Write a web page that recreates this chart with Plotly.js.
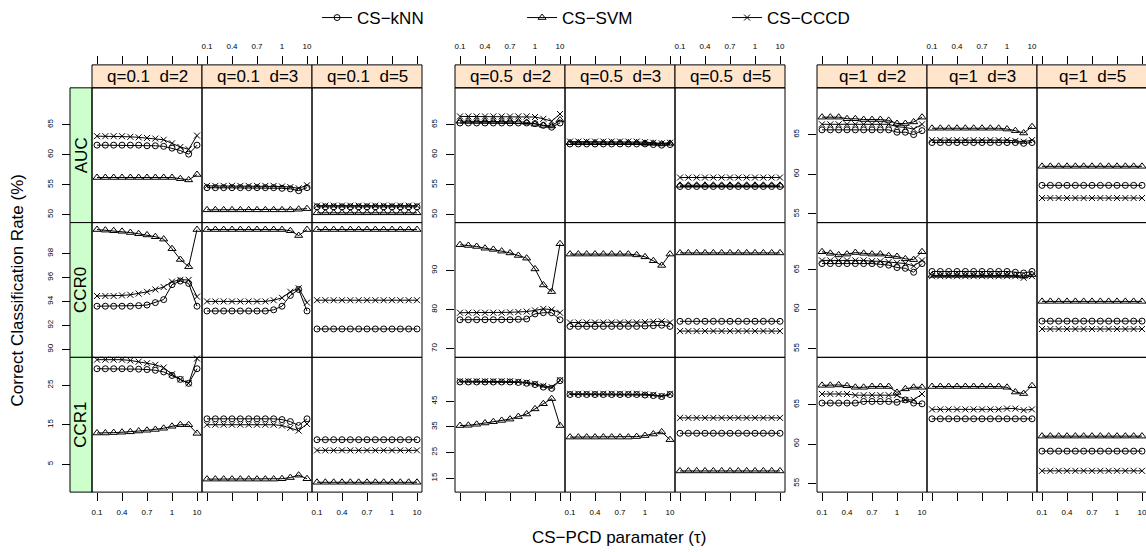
<!DOCTYPE html>
<html><head><meta charset="utf-8">
<script src="https://cdn.plot.ly/plotly-3.0.1.min.js"></script>
<style>body{margin:0;background:#fff}#chart{width:1146px;height:552px}</style>
</head><body><div id="chart"></div>
<script>
// ---------- categories / ticks ----------
const tauIndex=[1,2,3,4,5,6,7,8,9,10,11,12,13];
const tauTickIndex=[1,4,7,10,13];
const tauTickText=["0.1","0.4","0.7","1","10"];
const qLevels=["0.1","0.5","1"];
const dLevels=["2","3","5"];
const measures=["AUC","CCR0","CCR1"];
const methodNames=["CS−kNN","CS−SVM","CS−CCCD"];

// ---------- q = 0.1 ----------
const AUC_q01_d2_kNN =[61.6,61.6,61.6,61.6,61.6,61.6,61.5,61.5,61.4,61.1,60.7,60.1,61.6];
const AUC_q01_d2_SVM =[56.2,56.2,56.2,56.2,56.2,56.2,56.2,56.2,56.2,56.2,56.0,55.8,56.7];
const AUC_q01_d2_CCCD=[63.1,63.1,63.1,63.1,63.0,62.9,62.8,62.7,62.5,61.9,61.3,60.9,63.2];
const AUC_q01_d3_kNN =[54.5,54.5,54.5,54.5,54.5,54.5,54.5,54.5,54.5,54.4,54.3,54.0,54.5];
const AUC_q01_d3_SVM =[50.8,50.8,50.8,50.8,50.8,50.8,50.8,50.8,50.8,50.8,50.8,50.9,51.0];
const AUC_q01_d3_CCCD=[54.8,54.8,54.8,54.8,54.8,54.8,54.8,54.8,54.8,54.7,54.6,54.4,54.9];
const AUC_q01_d5_kNN =[51.3,51.3,51.3,51.3,51.3,51.3,51.3,51.3,51.3,51.3,51.3,51.3,51.3];
const AUC_q01_d5_SVM =[50.3,50.3,50.3,50.3,50.3,50.3,50.3,50.3,50.3,50.3,50.3,50.3,50.3];
const AUC_q01_d5_CCCD=[51.5,51.5,51.5,51.5,51.5,51.5,51.5,51.5,51.5,51.5,51.5,51.5,51.5];

const CCR0_q01_d2_kNN =[93.6,93.6,93.6,93.6,93.6,93.65,93.7,93.9,94.15,95.4,95.7,95.5,93.6];
const CCR0_q01_d2_SVM =[100,99.95,99.9,99.85,99.75,99.65,99.55,99.4,99.2,98.4,97.5,96.9,100];
const CCR0_q01_d2_CCCD=[94.45,94.45,94.45,94.5,94.55,94.65,94.8,95.0,95.2,95.65,95.8,95.8,94.4];
const CCR0_q01_d3_kNN =[93.2,93.2,93.2,93.2,93.2,93.2,93.2,93.2,93.3,93.6,94.5,95.0,93.2];
const CCR0_q01_d3_SVM =[100,100,100,100,100,100,100,100,100,100,99.9,99.5,100];
const CCR0_q01_d3_CCCD=[94.0,94.0,94.0,94.0,94.0,94.0,94.0,94.0,94.1,94.3,94.8,95.1,93.9];
const CCR0_q01_d5_kNN =[91.7,91.7,91.7,91.7,91.7,91.7,91.7,91.7,91.7,91.7,91.7,91.7,91.7];
const CCR0_q01_d5_SVM =[100,100,100,100,100,100,100,100,100,100,100,100,100];
const CCR0_q01_d5_CCCD=[94.1,94.1,94.1,94.1,94.1,94.1,94.1,94.1,94.1,94.1,94.1,94.1,94.1];

const CCR1_q01_d2_kNN =[29.2,29.2,29.2,29.2,29.2,29.1,29.0,28.8,28.4,27.5,26.5,25.5,29.2];
const CCR1_q01_d2_SVM =[12.9,12.9,13.0,13.1,13.2,13.4,13.6,13.8,14.1,14.6,15.0,15.0,12.8];
const CCR1_q01_d2_CCCD=[31.5,31.5,31.5,31.5,31.3,31.0,30.6,30.2,29.5,27.8,26.5,25.5,31.8];
const CCR1_q01_d3_kNN =[16.5,16.5,16.5,16.5,16.5,16.5,16.5,16.5,16.5,16.3,15.8,14.8,16.5];
const CCR1_q01_d3_SVM =[1.2,1.2,1.2,1.2,1.2,1.2,1.2,1.2,1.2,1.3,1.6,2.2,1.3];
const CCR1_q01_d3_CCCD=[15.0,15.0,15.0,15.0,15.0,15.0,15.0,15.0,15.0,14.8,14.2,13.5,15.2];
const CCR1_q01_d5_kNN =[11.2,11.2,11.2,11.2,11.2,11.2,11.2,11.2,11.2,11.2,11.2,11.2,11.2];
const CCR1_q01_d5_SVM =[0.4,0.4,0.4,0.4,0.4,0.4,0.4,0.4,0.4,0.4,0.4,0.4,0.4];
const CCR1_q01_d5_CCCD=[8.5,8.5,8.5,8.5,8.5,8.5,8.5,8.5,8.5,8.5,8.5,8.5,8.5];

// ---------- q = 0.5 ----------
const AUC_q05_d2_kNN =[65.3,65.3,65.3,65.3,65.3,65.3,65.3,65.3,65.3,65.2,64.9,64.6,65.3];
const AUC_q05_d2_SVM =[65.6,65.6,65.6,65.6,65.6,65.6,65.6,65.5,65.4,65.1,64.9,64.8,65.8];
const AUC_q05_d2_CCCD=[66.4,66.4,66.4,66.4,66.4,66.4,66.4,66.4,66.4,66.3,66.0,65.6,66.8];
const AUC_q05_d3_kNN =[61.8,61.8,61.8,61.8,61.8,61.8,61.8,61.8,61.8,61.8,61.7,61.6,61.7];
const AUC_q05_d3_SVM =[62.0,62.0,62.0,62.0,62.0,62.0,62.0,62.0,62.0,61.9,61.9,61.8,61.9];
const AUC_q05_d3_CCCD=[62.2,62.2,62.2,62.2,62.2,62.2,62.2,62.2,62.2,62.1,62.0,61.9,62.0];
const AUC_q05_d5_kNN =[54.7,54.7,54.7,54.7,54.7,54.7,54.7,54.7,54.7,54.7,54.7,54.7,54.7];
const AUC_q05_d5_SVM =[54.9,54.9,54.9,54.9,54.9,54.9,54.9,54.9,54.9,54.9,54.9,54.9,54.9];
const AUC_q05_d5_CCCD=[56.2,56.2,56.2,56.2,56.2,56.2,56.2,56.2,56.2,56.2,56.2,56.2,56.2];

const CCR0_q05_d2_kNN =[77.4,77.4,77.4,77.4,77.4,77.4,77.4,77.5,77.6,78.9,79.2,79.2,77.4];
const CCR0_q05_d2_SVM =[96.6,96.4,96.15,95.7,95.4,94.95,94.5,93.85,93.15,90.4,86.3,84.6,96.85];
const CCR0_q05_d2_CCCD=[79.2,79.2,79.2,79.2,79.2,79.2,79.3,79.4,79.5,79.8,80.2,80.0,79.2];
const CCR0_q05_d3_kNN =[75.7,75.7,75.7,75.7,75.7,75.7,75.7,75.7,75.7,75.8,75.9,76.0,75.7];
const CCR0_q05_d3_SVM =[94.2,94.2,94.2,94.2,94.2,94.2,94.2,94.2,94.0,93.5,92.5,91.3,94.2];
const CCR0_q05_d3_CCCD=[76.7,76.7,76.7,76.7,76.7,76.7,76.7,76.7,76.7,76.8,76.9,77.0,76.7];
const CCR0_q05_d5_kNN =[77.0,77.0,77.0,77.0,77.0,77.0,77.0,77.0,77.0,77.0,77.0,77.0,77.0];
const CCR0_q05_d5_SVM =[94.5,94.5,94.5,94.5,94.5,94.5,94.5,94.5,94.5,94.5,94.5,94.5,94.5];
const CCR0_q05_d5_CCCD=[74.5,74.5,74.5,74.5,74.5,74.5,74.5,74.5,74.5,74.5,74.5,74.5,74.5];

const CCR1_q05_d2_kNN =[52.5,52.5,52.5,52.5,52.5,52.5,52.5,52.3,52.0,51.5,50.5,50.0,53.0];
const CCR1_q05_d2_SVM =[35.5,35.6,36.0,36.5,37.0,37.5,38.0,39.0,40.0,42.0,44.0,46.0,35.5];
const CCR1_q05_d2_CCCD=[52.8,52.8,52.8,52.8,52.8,52.8,52.8,52.6,52.3,51.8,51.0,50.5,53.2];
const CCR1_q05_d3_kNN =[47.6,47.6,47.6,47.6,47.6,47.6,47.6,47.6,47.6,47.4,47.2,46.8,47.6];
const CCR1_q05_d3_SVM =[31.0,31.0,31.0,31.0,31.0,31.0,31.0,31.0,31.2,31.6,32.2,33.0,30.0];
const CCR1_q05_d3_CCCD=[47.9,47.9,47.9,47.9,47.9,47.9,47.9,47.9,47.9,47.7,47.5,47.0,47.9];
const CCR1_q05_d5_kNN =[32.5,32.5,32.5,32.5,32.5,32.5,32.5,32.5,32.5,32.5,32.5,32.5,32.5];
const CCR1_q05_d5_SVM =[17.8,17.8,17.8,17.8,17.8,17.8,17.8,17.8,17.8,17.8,17.8,17.8,17.8];
const CCR1_q05_d5_CCCD=[38.5,38.5,38.5,38.5,38.5,38.5,38.5,38.5,38.5,38.5,38.5,38.5,38.5];

// ---------- q = 1 ----------
const AUC_q1_d2_kNN =[65.6,65.6,65.6,65.6,65.6,65.6,65.6,65.6,65.6,65.3,65.3,65.0,65.5];
const AUC_q1_d2_SVM =[67.2,67.2,67.2,67.0,67.0,66.9,66.9,66.9,66.8,66.4,66.4,66.6,67.2];
const AUC_q1_d2_CCCD=[66.3,66.3,66.3,66.3,66.3,66.3,66.3,66.3,66.3,66.0,65.9,65.7,66.3];
const AUC_q1_d3_kNN =[64.0,64.0,64.0,64.0,64.0,64.0,64.0,64.0,64.0,64.0,64.0,63.9,64.0];
const AUC_q1_d3_SVM =[65.8,65.8,65.8,65.8,65.8,65.8,65.8,65.8,65.8,65.7,65.5,65.2,66.0];
const AUC_q1_d3_CCCD=[64.3,64.3,64.3,64.3,64.3,64.3,64.3,64.3,64.3,64.3,64.2,64.1,64.3];
const AUC_q1_d5_kNN =[58.6,58.6,58.6,58.6,58.6,58.6,58.6,58.6,58.6,58.6,58.6,58.6,58.6];
const AUC_q1_d5_SVM =[61.0,61.0,61.0,61.0,61.0,61.0,61.0,61.0,61.0,61.0,61.0,61.0,61.0];
const AUC_q1_d5_CCCD=[57.0,57.0,57.0,57.0,57.0,57.0,57.0,57.0,57.0,57.0,57.0,57.0,57.0];

const CCR0_q1_d2_kNN =[65.8,65.8,65.8,65.8,65.8,65.8,65.8,65.7,65.6,65.3,65.2,64.7,65.8];
const CCR0_q1_d2_SVM =[67.3,67.1,66.9,67.0,67.2,67.1,67.0,67.0,66.8,66.7,66.4,66.3,67.3];
const CCR0_q1_d2_CCCD=[66.2,66.2,66.2,66.2,66.2,66.2,66.1,66.1,66.0,65.9,65.8,65.5,66.2];
const CCR0_q1_d3_kNN =[64.8,64.8,64.8,64.8,64.8,64.8,64.8,64.8,64.8,64.8,64.7,64.6,64.8];
const CCR0_q1_d3_SVM =[64.3,64.3,64.3,64.3,64.3,64.3,64.3,64.3,64.3,64.3,64.3,64.2,64.4];
const CCR0_q1_d3_CCCD=[64.2,64.2,64.2,64.2,64.2,64.2,64.2,64.2,64.2,64.2,64.2,64.0,64.2];
const CCR0_q1_d5_kNN =[58.5,58.5,58.5,58.5,58.5,58.5,58.5,58.5,58.5,58.5,58.5,58.5,58.5];
const CCR0_q1_d5_SVM =[61.0,61.0,61.0,61.0,61.0,61.0,61.0,61.0,61.0,61.0,61.0,61.0,61.0];
const CCR0_q1_d5_CCCD=[57.5,57.5,57.5,57.5,57.5,57.5,57.5,57.5,57.5,57.5,57.5,57.5,57.5];

const CCR1_q1_d2_kNN =[65.2,65.2,65.2,65.2,65.2,65.4,65.4,65.4,65.4,65.3,65.6,65.2,65.1];
const CCR1_q1_d2_SVM =[67.45,67.45,67.5,67.4,67.2,67.2,67.3,67.3,67.3,66.55,67.0,67.2,67.2];
const CCR1_q1_d2_CCCD=[66.35,66.35,66.35,66.35,66.2,66.2,66.2,66.2,66.2,66.2,65.6,65.6,66.35];
const CCR1_q1_d3_kNN =[63.2,63.2,63.2,63.2,63.2,63.2,63.2,63.2,63.2,63.2,63.2,63.2,63.2];
const CCR1_q1_d3_SVM =[67.3,67.3,67.3,67.3,67.3,67.3,67.3,67.3,67.3,67.2,66.6,66.4,67.4];
const CCR1_q1_d3_CCCD=[64.4,64.4,64.4,64.4,64.4,64.4,64.4,64.4,64.4,64.5,64.5,64.3,64.4];
const CCR1_q1_d5_kNN =[59.1,59.1,59.1,59.1,59.1,59.1,59.1,59.1,59.1,59.1,59.1,59.1,59.1];
const CCR1_q1_d5_SVM =[61.0,61.0,61.0,61.0,61.0,61.0,61.0,61.0,61.0,61.0,61.0,61.0,61.0];
const CCR1_q1_d5_CCCD=[56.6,56.6,56.6,56.6,56.6,56.6,56.6,56.6,56.6,56.6,56.6,56.6,56.6];

// table built from the arrays: [measure][q][d] -> [kNN, SVM, CCCD]
const table={
 AUC:{"0.1":{"2":[AUC_q01_d2_kNN,AUC_q01_d2_SVM,AUC_q01_d2_CCCD],"3":[AUC_q01_d3_kNN,AUC_q01_d3_SVM,AUC_q01_d3_CCCD],"5":[AUC_q01_d5_kNN,AUC_q01_d5_SVM,AUC_q01_d5_CCCD]},
      "0.5":{"2":[AUC_q05_d2_kNN,AUC_q05_d2_SVM,AUC_q05_d2_CCCD],"3":[AUC_q05_d3_kNN,AUC_q05_d3_SVM,AUC_q05_d3_CCCD],"5":[AUC_q05_d5_kNN,AUC_q05_d5_SVM,AUC_q05_d5_CCCD]},
      "1":{"2":[AUC_q1_d2_kNN,AUC_q1_d2_SVM,AUC_q1_d2_CCCD],"3":[AUC_q1_d3_kNN,AUC_q1_d3_SVM,AUC_q1_d3_CCCD],"5":[AUC_q1_d5_kNN,AUC_q1_d5_SVM,AUC_q1_d5_CCCD]}},
 CCR0:{"0.1":{"2":[CCR0_q01_d2_kNN,CCR0_q01_d2_SVM,CCR0_q01_d2_CCCD],"3":[CCR0_q01_d3_kNN,CCR0_q01_d3_SVM,CCR0_q01_d3_CCCD],"5":[CCR0_q01_d5_kNN,CCR0_q01_d5_SVM,CCR0_q01_d5_CCCD]},
      "0.5":{"2":[CCR0_q05_d2_kNN,CCR0_q05_d2_SVM,CCR0_q05_d2_CCCD],"3":[CCR0_q05_d3_kNN,CCR0_q05_d3_SVM,CCR0_q05_d3_CCCD],"5":[CCR0_q05_d5_kNN,CCR0_q05_d5_SVM,CCR0_q05_d5_CCCD]},
      "1":{"2":[CCR0_q1_d2_kNN,CCR0_q1_d2_SVM,CCR0_q1_d2_CCCD],"3":[CCR0_q1_d3_kNN,CCR0_q1_d3_SVM,CCR0_q1_d3_CCCD],"5":[CCR0_q1_d5_kNN,CCR0_q1_d5_SVM,CCR0_q1_d5_CCCD]}},
 CCR1:{"0.1":{"2":[CCR1_q01_d2_kNN,CCR1_q01_d2_SVM,CCR1_q01_d2_CCCD],"3":[CCR1_q01_d3_kNN,CCR1_q01_d3_SVM,CCR1_q01_d3_CCCD],"5":[CCR1_q01_d5_kNN,CCR1_q01_d5_SVM,CCR1_q01_d5_CCCD]},
      "0.5":{"2":[CCR1_q05_d2_kNN,CCR1_q05_d2_SVM,CCR1_q05_d2_CCCD],"3":[CCR1_q05_d3_kNN,CCR1_q05_d3_SVM,CCR1_q05_d3_CCCD],"5":[CCR1_q05_d5_kNN,CCR1_q05_d5_SVM,CCR1_q05_d5_CCCD]},
      "1":{"2":[CCR1_q1_d2_kNN,CCR1_q1_d2_SVM,CCR1_q1_d2_CCCD],"3":[CCR1_q1_d3_kNN,CCR1_q1_d3_SVM,CCR1_q1_d3_CCCD],"5":[CCR1_q1_d5_kNN,CCR1_q1_d5_SVM,CCR1_q1_d5_CCCD]}}
};

// ---------- layout geometry & styles ----------
const W=1146,H=552;
const FONT='"Liberation Sans", Arial, Helvetica, sans-serif';
const colLeft=[92,202,312,455,565,675,817,927,1037], colW=110;
const rowTop=[87,222,357], rowH=135, stripTop=64;
const pxPerIdx=100/12;
// y ranges of the data area, per measure (row) and q group
const yRanges={
 AUC:[[48.67,71.17],[48.67,71.17],[53.9,70.9]],
 CCR0:[[89.33,100.58],[67.78,102.26],[53.9,71.0]],
 CCR1:[[-2.09,32.09],[9.55,62.1],[53.9,71.0]]
};
const yTicks={
 AUC:[[50,55,60,65],[50,55,60,65],[55,60,65]],
 CCR0:[[90,92,94,96,98],[70,80,90],[55,60,65]],
 CCR1:[[5,15,25],[15,25,35,45],[55,60,65]]
};
const markerStyle=[
 {symbol:"circle-open",size:6},
 {symbol:"triangle-up-open",size:7},
 {symbol:"x-thin-open",size:6}
];

const traces=[], shapes=[], annotations=[];
const layout={width:W,height:H,margin:{l:0,r:0,t:0,b:0},paper_bgcolor:"#fff",plot_bgcolor:"rgba(0,0,0,0)",
  font:{family:FONT,color:"#000"},showlegend:true,
  legend:{orientation:"h",x:0.545,xanchor:"center",y:1+1/H,yanchor:"top",font:{size:17,family:FONT},
          entrywidth:160,entrywidthmode:"pixels",bgcolor:"rgba(0,0,0,0)",tracegroupgap:0}};

for(let r=0;r<3;r++){
 const m=measures[r];
 for(let c=0;c<9;c++){
  const g=Math.floor(c/3), q=qLevels[g], d=dLevels[c%3];
  const n=r*9+c+1, sfx=(n===1?"":String(n));
  const xl=colLeft[c], xr=Math.min(W,xl+colW);
  const top = (r===0? stripTop: rowTop[r]);
  const bot = rowTop[r]+rowH;
  const [lo,hi]=yRanges[m][g];
  const perPx=(hi-lo)/rowH;
  const hiExt = hi + (rowTop[r]-top)*perPx;
  const isBottom = r===2, isTop = r===0;
  const labelBottom = (c%2===0), labelTop = (c%2===1);
  layout["xaxis"+sfx]={domain:[xl/W,xr/W],range:[1-5/pxPerIdx,1-5/pxPerIdx+(xr-xl)/pxPerIdx],
    anchor:"y"+sfx,showgrid:false,zeroline:false,showline:false,fixedrange:true,
    tickmode:"array",tickvals:tauTickIndex,ticktext:tauTickText,
    ticks:(isBottom||isTop)?"outside":"",ticklen:8,tickwidth:1,tickcolor:"#000",
    side:isTop?"top":"bottom",ticklabeloverflow:"allow",
    showticklabels:(isBottom&&labelBottom)||(isTop&&labelTop),
    tickfont:{size:8,family:FONT,color:"#000"},ticklabelstandoff:4};
  const leftCol = (c%3===0);
  const yax={domain:[1-bot/H,1-top/H],range:[lo,hiExt],showgrid:false,zeroline:false,showline:false,fixedrange:true,
    tickmode:"array",tickvals:yTicks[m][g],ticks:leftCol?"outside":"",ticklen:8,tickwidth:1,tickcolor:"#000",
    showticklabels:leftCol,tickangle:-90,tickfont:{size:8,family:FONT,color:"#000"},ticklabelstandoff:6};
  if(leftCol && g===0){yax.anchor="free";yax.position=70/W;} else {yax.anchor="x"+sfx;}
  layout["yaxis"+sfx]=yax;

  const frac = rowH/(bot-top);
  // panel frame
  shapes.push({type:"rect",xref:"x"+sfx+" domain",yref:"y"+sfx+" domain",x0:0,x1:(xl+colW>W?1.01:1),y0:0,y1:frac,
               line:{color:"#000",width:1},fillcolor:"rgba(0,0,0,0)",layer:"above"});
  if(isTop){
    shapes.push({type:"rect",xref:"x"+sfx+" domain",yref:"y"+sfx+" domain",x0:0,x1:(xl+colW>W?1.01:1),y0:frac,y1:1,
               line:{color:"#000",width:1},fillcolor:"#ffe5cc",layer:"below"});
    annotations.push({xref:"x"+sfx+" domain",yref:"y"+sfx+" domain",x:0.5*colW/(xr-xl),y:(frac+1)/2,
      text:"q="+q+"  d="+d,showarrow:false,font:{size:17,family:FONT,color:"#000"},xanchor:"center",yanchor:"middle"});
  }
  if(c===0){
    shapes.push({type:"rect",xref:"paper",yref:"y"+sfx+" domain",x0:70/W,x1:92/W,y0:0,y1:frac,
               line:{color:"#000",width:1},fillcolor:"#ccffcc",layer:"below"});
    annotations.push({xref:"paper",yref:"y"+sfx+" domain",x:81/W,y:frac/2,text:m,textangle:-90,showarrow:false,
      font:{size:17,family:FONT,color:"#000"},xanchor:"center",yanchor:"middle"});
  }
  const vals=table[m][q][d];
  for(let k=0;k<3;k++){
    traces.push({type:"scatter",mode:"lines+markers",x:tauIndex,y:vals[k],xaxis:"x"+sfx,yaxis:"y"+sfx,
      name:methodNames[k],legendgroup:methodNames[k],showlegend:(n===1),cliponaxis:false,
      line:{color:"#000",width:1},
      marker:{symbol:markerStyle[k].symbol,size:markerStyle[k].size,color:"#000",line:{color:"#000",width:1}},
      hoverinfo:"skip"});
  }
 }
}
annotations.push({xref:"paper",yref:"paper",x:619/W,y:1-537/H,text:"CS−PCD paramater (τ)",showarrow:false,
  font:{size:17,family:FONT,color:"#000"},xanchor:"center",yanchor:"middle"});
annotations.push({xref:"paper",yref:"paper",x:17/W,y:1-290/H,text:"Correct Classification Rate (%)",textangle:-90,showarrow:false,
  font:{size:17,family:FONT,color:"#000"},xanchor:"center",yanchor:"middle"});
layout.shapes=shapes; layout.annotations=annotations;
Plotly.newPlot("chart",traces,layout,{displayModeBar:false,staticPlot:true});
</script></body></html>
